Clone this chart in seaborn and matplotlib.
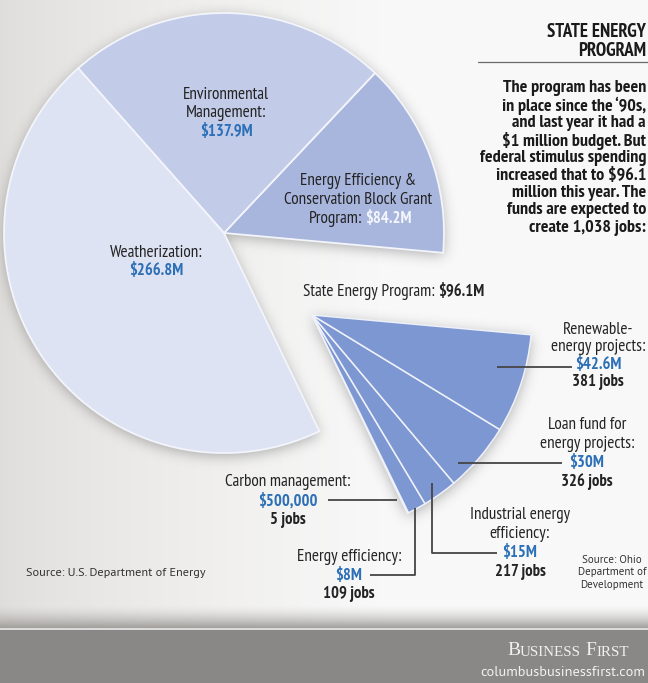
import numpy as np
import matplotlib
matplotlib.use("Agg")
import matplotlib.pyplot as plt
import seaborn as sns

# Federal stimulus energy funding for Ohio, $ millions
programs = ["State Energy Program",
            "Energy Efficiency & Conservation Block Grant Program",
            "Environmental Management",
            "Weatherization"]
program_funding = [96.1, 84.2, 137.9, 266.8]
program_value_labels = ["$96.1M", "$84.2M", "$137.9M", "$266.8M"]

# State Energy Program breakdown, $ millions and expected jobs
sep_projects = ["Carbon management:", "Energy efficiency:",
                "Industrial energy\nefficiency:",
                "Loan fund for\nenergy projects:",
                "Renewable-\nenergy projects:"]
sep_funding = [0.5, 8.0, 15.0, 30.0, 42.6]
sep_value_labels = ["$500,000", "$8M", "$15M", "$30M", "$42.6M"]
sep_jobs = [5, 109, 217, 326, 381]

sns.set_theme(style="white")
NARROW = ["PT Sans Narrow", "Roboto Condensed", "Fira Sans Condensed",
          "Archivo Narrow", "Liberation Sans Narrow", "Roboto", "DejaVu Sans"]
SRC = ["PT Sans", "Source Sans 3", "Lato", "DejaVu Sans"]
SERIF = ["Liberation Serif", "DejaVu Serif"]
plt.rcParams["font.family"] = NARROW

W, H = 648, 683
fig = plt.figure(figsize=(W / 100, H / 100), dpi=100)
ax = fig.add_axes([0, 0, 1, 1])


def Y(py):
    return H - py


BLUE = "#2b6fb6"
INK = "#232323"
R = 220
main_c = (224, 233)      # pie centre (px, from top)
exp_c = (312, 315)       # pulled-out State Energy wedge apex
START = -64.3
total = sum(program_funding)

# ---- background --------------------------------------------------------
xs = np.arange(W)
t = np.clip(xs / 380.0, 0, 1) ** 0.7
left = np.array([0.875, 0.867, 0.855])
right = np.array([0.973, 0.973, 0.973])
row = left[None, :] * (1 - t[:, None]) + right[None, :] * t[:, None]
bg = np.repeat(row[None, :, :], H, axis=0)
band_col = np.array([0.545, 0.537, 0.529])
for py in range(604, 628):
    f = ((py - 604) / 24.0) ** 1.6
    bg[py] = bg[py] * (1 - f) + np.array([0.62, 0.61, 0.60]) * f
bg[628:630] = np.array([0.86, 0.86, 0.86])
bg[630:] = band_col
ax.imshow(bg, extent=(0, W, 0, H), origin="upper", zorder=0,
          interpolation="bilinear")

# ---- soft drop shadow under the pie pieces ------------------------------
yy, xx = np.mgrid[0:H, 0:W] + 0.5
bounds = START + 360 * np.cumsum([0] + program_funding) / total


def wedge_mask(c, a0, a1):
    dx = xx - c[0]
    dy = c[1] - yy
    rr = np.hypot(dx, dy)
    ang = np.degrees(np.arctan2(dy, dx))
    return (rr <= R) & (((ang - a0) % 360) <= (a1 - a0))


mask = np.zeros((H, W), bool)
for i in range(1, len(program_funding)):
    mask |= wedge_mask(main_c, bounds[i], bounds[i + 1])
mask |= wedge_mask(exp_c, bounds[0], bounds[1])
k = np.exp(-0.5 * (np.arange(-20, 21) / 6.5) ** 2)
k /= k.sum()
blur = mask.astype(float)
blur = np.apply_along_axis(lambda v: np.convolve(v, k, mode="same"), 0, blur)
blur = np.apply_along_axis(lambda v: np.convolve(v, k, mode="same"), 1, blur)
blur = np.roll(blur, 3, axis=0)
shadow = np.zeros((H, W, 4))
shadow[..., :3] = 0.30
shadow[..., 3] = 0.42 * blur
ax.imshow(shadow, extent=(0, W, 0, H), origin="upper", zorder=1,
          interpolation="bilinear")

# ---- main pie ------------------------------------------------------------
main_colors = ["#7d97d2", "#a8b6de", "#c2cbe8", "#dde3f3"]
wedges, _ = ax.pie(program_funding, colors=main_colors, startangle=START,
                   radius=R, center=(main_c[0], Y(main_c[1])),
                   counterclock=True,
                   wedgeprops=dict(edgecolor="#f3f5fb", linewidth=1.3))
wedges[0].set_visible(False)
for w in wedges:
    w.set_zorder(2)

# ---- pulled-out State Energy Program wedge --------------------------------
sub_w, _ = ax.pie([v / total for v in sep_funding], normalize=False,
                  colors=["#7d97d2"] * len(sep_funding), startangle=START,
                  radius=R, center=(exp_c[0], Y(exp_c[1])), counterclock=True,
                  wedgeprops=dict(edgecolor="#eef1f9", linewidth=1.1))
for w in sub_w:
    w.set_zorder(2)

ax.set_xlim(0, W)
ax.set_ylim(0, H)
ax.set_aspect("auto")
ax.axis("off")


def txt(x, y, s, size=11, weight="normal", color=INK, ha="center", **kw):
    return ax.text(x, Y(y), s, fontsize=size, fontweight=weight, color=color,
                   ha=ha, va="center", zorder=5, **kw)


def follow(prev, s, size=11, weight="bold", color=INK, gap=3, **kw):
    return ax.annotate(s, xy=(1, 0), xycoords=prev, xytext=(gap, 0),
                       textcoords="offset points", ha="left", va="bottom",
                       fontsize=size, fontweight=weight, color=color,
                       zorder=5, **kw)


LS = 12.3     # label text
VS = 12.0     # bold values
# main pie labels
txt(226, 95, "Environmental", LS)
txt(226, 113, "Management:", LS)
txt(226, 132, program_value_labels[2], VS, "bold", BLUE)

txt(358, 181, "Energy Efficiency &", LS)
txt(358, 200, "Conservation Block Grant", LS)
p = txt(362, 219, "Program:", LS, ha="right")
follow(p, program_value_labels[1], VS, "bold", "#f4f6fc", gap=2.5)

txt(156, 253, "Weatherization:", LS)
txt(156, 271, program_value_labels[3], VS, "bold", BLUE)

p = txt(303, 292, "State Energy Program:", LS, ha="left")
follow(p, program_value_labels[0], VS, "bold", INK, gap=2.5)

# side panel
txt(646, 32, "STATE ENERGY", 13.5, "bold", "#1a1a1a", ha="right")
txt(646, 51, "PROGRAM", 13.5, "bold", "#1a1a1a", ha="right")
ax.plot([478, 648], [Y(62), Y(62)], color="#6a6a6a", lw=0.9, zorder=5)
para = ["The program has been", "in place since the \u201890s,",
        "and last year it had a", "$1 million budget. But",
        "federal stimulus spending", "increased that to $96.1",
        "million this year. The", "funds are expected to",
        "create 1,038 jobs:"]
for i, s in enumerate(para):
    txt(646, 88 + 17.5 * i, s, 13, "bold", "#1a1a1a", ha="right")

# breakdown labels: (centre x, first line y, line step)
label_pos = [(288, 482, 19), (349, 557, 18.5), (520, 515, 19),
             (587, 425, 19), (598, 330, 17.3)]
for name, val, jobs, (lx, ly, step) in zip(sep_projects, sep_value_labels,
                                           sep_jobs, label_pos):
    lines = name.split("\n")
    for j, s in enumerate(lines):
        txt(lx, ly + step * j, s, LS)
    n = len(lines)
    txt(lx, ly + step * n, val, VS, "bold", BLUE)
    txt(lx, ly + step * (n + 1), f"{jobs} jobs", VS, "bold", INK)

# leader lines
LC = "#454545"
leaders = [[(328, 500), (397, 500)],
           [(370, 575), (415, 575), (415, 508)],
           [(497, 553), (432, 553), (432, 483)],
           [(562, 463), (458, 463)],
           [(572, 367), (497, 367)]]
for pts in leaders:
    px, py = zip(*pts)
    ax.plot(px, [Y(v) for v in py], color=LC, lw=1.3, zorder=4,
            solid_capstyle="butt")

# sources
txt(26, 573, "Source: U.S. Department of Energy", 8.8, color="#333333",
    ha="left", family=SRC)
for j, s in enumerate(["Source: Ohio", "Department of", "Development"]):
    txt(612, 560 + 12.3 * j, s, 7.9, color="#333333", family=SRC)

# footer
b = ax.text(507, Y(655), "B", fontsize=14, color="#f0f0f0", family=SERIF,
            ha="left", va="baseline", zorder=5)
b = follow(b, "USINESS", 10.8, "normal", "#f0f0f0", gap=0, family=SERIF)
b = follow(b, "F", 14, "normal", "#f0f0f0", gap=3, family=SERIF)
follow(b, "IRST", 10.8, "normal", "#f0f0f0", gap=0, family=SERIF)
txt(645, 673, "columbusbusinessfirst.com", 10.3, color="#f2f2f2", ha="right",
    family=SRC)

fig.savefig("out.png", dpi=100)
